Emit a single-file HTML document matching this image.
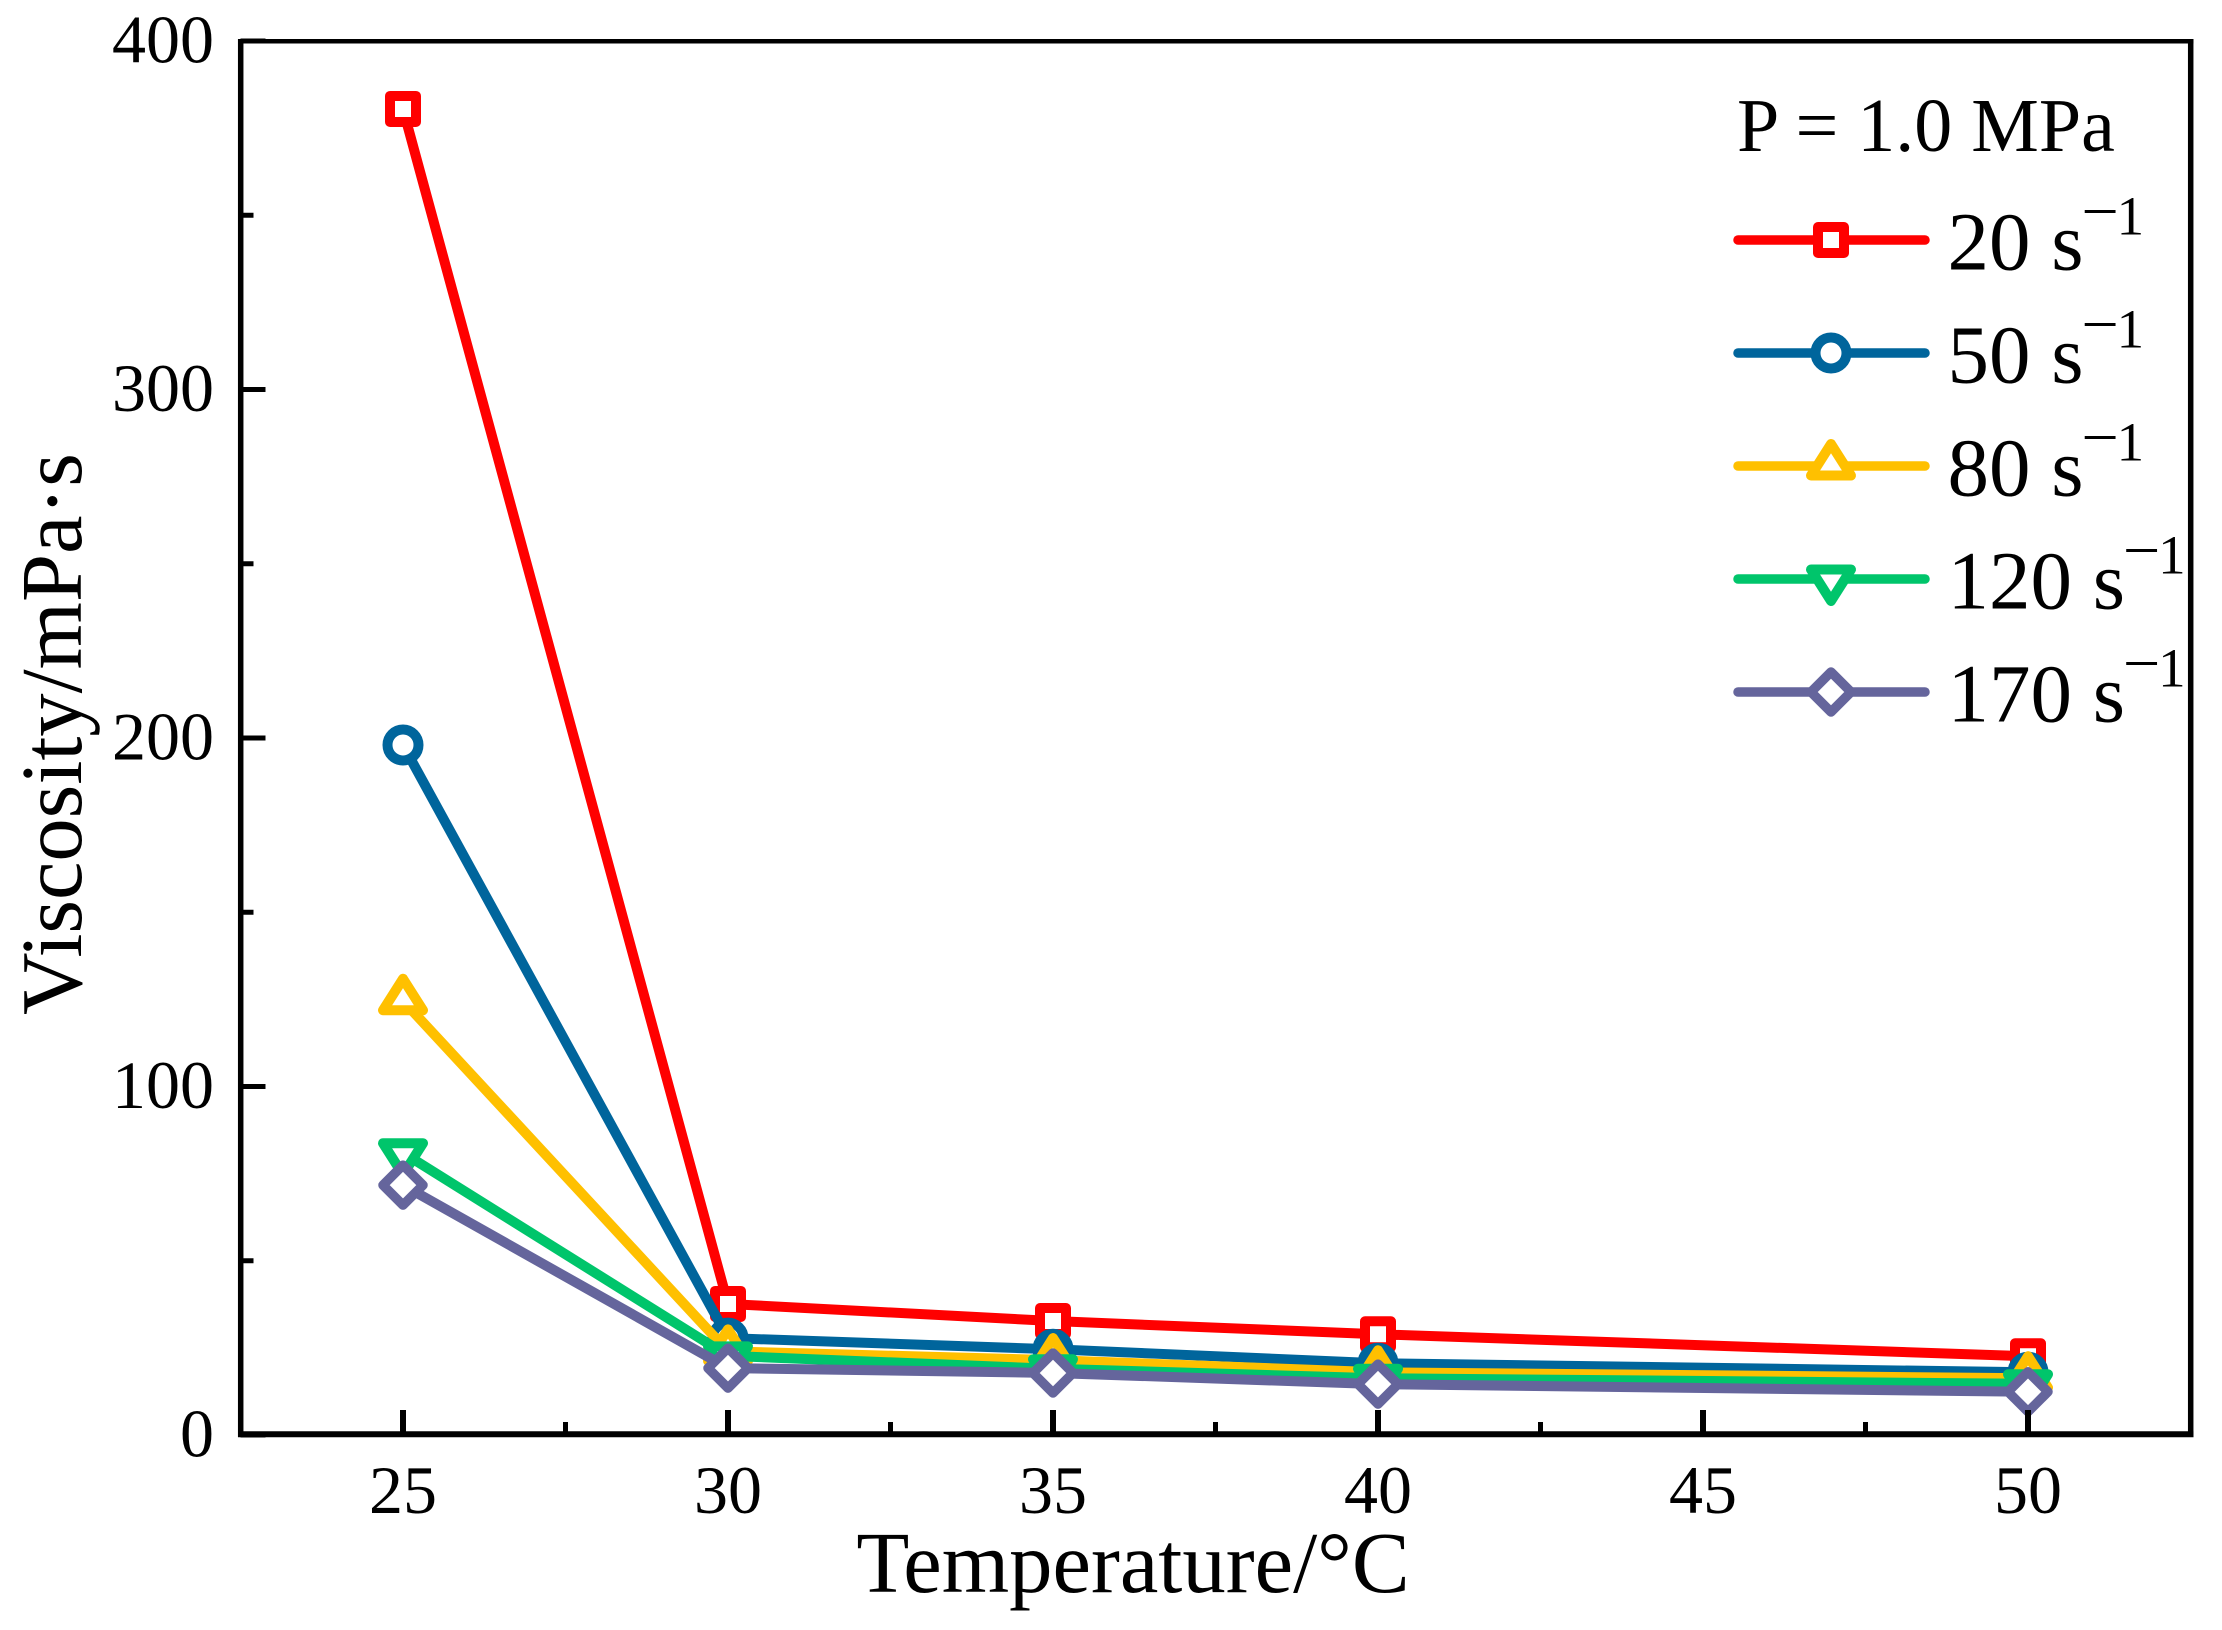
<!DOCTYPE html>
<html lang="en">
<head>
<meta charset="utf-8">
<title>Viscosity vs Temperature</title>
<style>
html,body{margin:0;padding:0;background:#fff;width:2222px;height:1630px;overflow:hidden}
svg{display:block}
text{font-family:"Liberation Serif",serif;fill:#000}
</style>
</head>
<body>
<svg id="chart" xmlns="http://www.w3.org/2000/svg" width="2222" height="1630" viewBox="0 0 2222 1630">
<rect x="0" y="0" width="2222" height="1630" fill="#fff"/>
<g id="series-layer"></g>
<g id="axes-layer"></g>
<g id="legend-layer"></g>
</svg>
<script>
const temperatures = [25, 30, 35, 40, 50];
const series20 = [380.5, 37.6, 32.7, 28.9, 22.6];
const series50 = [198, 27.8, 24.6, 20.6, 18];
const series80 = [124.6, 24, 21.5, 18, 16.3];
const series120 = [81, 22.7, 19, 16.3, 14.7];
const series170 = [71.7, 19.2, 17.8, 14.6, 12.4];
const seriesLabels = ["20", "50", "80", "120", "170"];
const seriesColors = ["#ff0000", "#00659c", "#ffc000", "#00c56b", "#65659c"];
const seriesMarkers = ["square", "circle", "triangle", "triangle-down", "diamond"];
const xMajorTicks = [25, 30, 35, 40, 45, 50];
const xMinorTicks = [27.5, 32.5, 37.5, 42.5, 47.5];
const yMajorTicks = [0, 100, 200, 300, 400];
const yMinorTicks = [50, 150, 250, 350];
const xDomain = [22.5, 52.5];
const yDomain = [0, 400];

const allSeries = [series20, series50, series80, series120, series170];
const NS = "http://www.w3.org/2000/svg";
const plotLeft = 240.5, plotRight = 2190.5, plotTop = 41, plotBottom = 1435;

function xScale(v) { return plotLeft + (v - xDomain[0]) / (xDomain[1] - xDomain[0]) * (plotRight - plotLeft); }
function yScale(v) { return plotBottom - (v - yDomain[0]) / (yDomain[1] - yDomain[0]) * (plotBottom - plotTop); }

function make(tag, parent, attrs) {
  const el = document.createElementNS(NS, tag);
  for (const k in attrs) el.setAttribute(k, attrs[k]);
  parent.appendChild(el);
  return el;
}

function drawMarker(parent, kind, cx, cy, color, name) {
  const style = { fill: "#fff", stroke: color, "stroke-width": 10, "stroke-linejoin": "round" };
  let el;
  if (kind === "square") {
    el = make("rect", parent, Object.assign({ x: cx - 13, y: cy - 13, width: 26, height: 26 }, style));
  } else if (kind === "circle") {
    el = make("circle", parent, Object.assign({ cx: cx, cy: cy, r: 15.5 }, style));
  } else if (kind === "triangle") {
    el = make("polygon", parent, Object.assign({ points: `${cx},${cy - 22} ${cx + 20},${cy + 9.5} ${cx - 20},${cy + 9.5}` }, style));
  } else if (kind === "triangle-down") {
    el = make("polygon", parent, Object.assign({ points: `${cx},${cy + 22} ${cx + 20},${cy - 9.5} ${cx - 20},${cy - 9.5}` }, style));
  } else {
    el = make("polygon", parent, Object.assign({ points: `${cx},${cy - 20} ${cx + 20},${cy} ${cx},${cy + 20} ${cx - 20},${cy}` }, style, { "stroke-width": 9.5 }));
  }
  
  
  return el;
}

/* series */
const seriesLayer = document.getElementById("series-layer");
allSeries.forEach(function (vals, s) {
  const g = make("g", seriesLayer, {});
  
  
  const pts = vals.map(function (v, i) { return xScale(temperatures[i]) + "," + yScale(v); }).join(" ");
  const line = make("polyline", g, { points: pts, fill: "none", stroke: seriesColors[s], "stroke-width": 10, "stroke-linejoin": "round" });
  
  
  vals.forEach(function (v, i) {
    drawMarker(g, seriesMarkers[s], xScale(temperatures[i]), yScale(v), seriesColors[s], 'point-' + seriesLabels[s] + '-' + temperatures[i]);
  });
});

/* axes */
const axesLayer = document.getElementById("axes-layer");
const frameTop = make("line", axesLayer, { x1: 238, x2: 2193.5, y1: 41.3, y2: 41.3, stroke: "#000", "stroke-width": 4.5 });


const frameBottom = make("line", axesLayer, { x1: 238, x2: 2193.5, y1: 1434.3, y2: 1434.3, stroke: "#000", "stroke-width": 6 });


const frameLeft = make("line", axesLayer, { x1: 240.7, x2: 240.7, y1: 39, y2: 1437, stroke: "#000", "stroke-width": 5.5 });


const frameRight = make("line", axesLayer, { x1: 2190.7, x2: 2190.7, y1: 39, y2: 1437, stroke: "#000", "stroke-width": 5.5 });



xMajorTicks.forEach(function (v) {
  const x = xScale(v);
  const t = make("line", axesLayer, { x1: x, x2: x, y1: plotBottom, y2: plotBottom - 25, stroke: "#000", "stroke-width": 6 });
  
  
  const lab = make("text", axesLayer, { x: x, y: 1513, "text-anchor": "middle", "font-size": 68 });
  lab.textContent = String(v);
  
  
});
xMinorTicks.forEach(function (v) {
  const x = xScale(v);
  const t = make("line", axesLayer, { x1: x, x2: x, y1: plotBottom, y2: plotBottom - 13, stroke: "#000", "stroke-width": 5 });
  
  
});
yMajorTicks.forEach(function (v) {
  const y = yScale(v);
  const t = make("line", axesLayer, { x1: plotLeft, x2: plotLeft + 25, y1: y, y2: y, stroke: "#000", "stroke-width": 5 });
  
  
  const lab = make("text", axesLayer, { x: 214, y: y + 21.5, "text-anchor": "end", "font-size": 68 });
  lab.textContent = String(v);
  
  
});
yMinorTicks.forEach(function (v) {
  const y = yScale(v);
  const t = make("line", axesLayer, { x1: plotLeft, x2: plotLeft + 13, y1: y, y2: y, stroke: "#000", "stroke-width": 5 });
  
  
});

const xTitle = make("text", axesLayer, { x: 1133, y: 1592, "text-anchor": "middle", "font-size": 86.7 });
xTitle.textContent = "Temperature/°C";



const yTitle = make("text", axesLayer, { transform: "translate(81,734) rotate(-90)", x: 0, y: 0, "text-anchor": "middle", "font-size": 86.5 });
yTitle.textContent = "Viscosity/mPa·s";



/* legend */
const legendLayer = document.getElementById("legend-layer");
const legendTitle = make("text", legendLayer, { x: 1737, y: 151, "font-size": 76 });
legendTitle.textContent = "P = 1.0 MPa";



seriesLabels.forEach(function (label, s) {
  const rowY = 240 + s * 113;
  const g = make("g", legendLayer, {});
  
  
  const ln = make("line", g, { x1: 1738, x2: 1925, y1: rowY, y2: rowY, stroke: seriesColors[s], "stroke-width": 9.5, "stroke-linecap": "round" });
  
  
  drawMarker(g, seriesMarkers[s], 1831, rowY, seriesColors[s], 'legend-marker');
  const base = rowY + 29.3;
  const txt = make("text", g, { x: 1947.5, y: base, "font-size": 83 });
  txt.textContent = label + " s";
  
  
  const end = 1947.5 + txt.getComputedTextLength();
  const dash = make("text", g, { x: end + 1.5, y: base - 44, "font-size": 60 });
  dash.textContent = "–";
  
  
  const one = make("text", g, { x: end + 33, y: base - 35, "font-size": 55 });
  one.textContent = "1";
  
  
});
</script>
</body>
</html>
